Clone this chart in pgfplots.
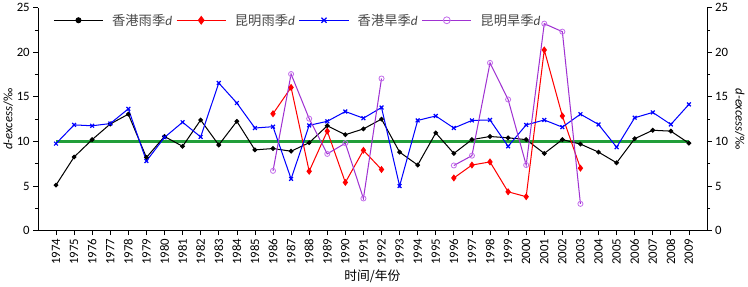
\documentclass[border=0pt]{standalone}
\usepackage{fontspec}
\setmainfont{Carlito}
\newfontfamily\cjk{Noto Sans CJK SC}
\usepackage{pgfplots}
\pgfplotsset{compat=1.18}
\definecolor{kmdry}{RGB}{160,50,210}
\definecolor{kmdrym}{RGB}{195,110,235}
\definecolor{gline}{RGB}{34,158,58}
\definecolor{legtext}{RGB}{70,70,70}
\pgfplotstableread{
year hkrain hkdry
1974 5.1 9.75
1975 8.25 11.85
1976 10.2 11.75
1977 11.95 12.0
1978 13.05 13.65
1979 8.2 7.8
1980 10.55 10.45
1981 9.45 12.15
1982 12.4 10.5
1983 9.6 16.55
1984 12.25 14.3
1985 9.05 11.5
1986 9.2 11.65
1987 8.9 5.8
1988 9.85 11.8
1989 11.75 12.25
1990 10.75 13.35
1991 11.4 12.6
1992 12.5 13.8
1993 8.8 5.0
1994 7.35 12.35
1995 10.95 12.85
1996 8.65 11.5
1997 10.2 12.35
1998 10.55 12.4
1999 10.4 9.45
2000 10.2 11.85
2001 8.65 12.4
2002 10.2 11.6
2003 9.7 13.05
2004 8.8 11.9
2005 7.6 9.35
2006 10.3 12.65
2007 11.25 13.25
2008 11.15 11.9
2009 9.8 14.15
}\hkdata
\pgfplotstableread{
year kmrain kmdry
1986 13.1 6.7
1987 16.05 17.55
1988 6.65 12.55
1989 11.15 8.6
1990 5.4 9.8
1991 9.0 3.6
1992 6.85 17.05
1994 nan nan
1996 5.9 7.3
1997 7.35 8.4
1998 7.7 18.8
1999 4.35 14.7
2000 3.8 7.35
2001 20.25 23.2
2002 12.85 22.3
2003 7.0 3.0
}\kmdata
\begin{document}
\begin{tikzpicture}
\pgfplotsset{
  base/.style={
    width=655pt, height=218.3pt, scale only axis,
    xmin=1973, xmax=2010, ymin=0, ymax=25,
    ytick={0,5,...,25}, minor y tick num=1,
    tick align=outside, major tick length=4.5pt, minor tick length=3pt,
    every tick/.style={black, line width=0.6pt},
    axis line style={black, line width=0.8pt},
    /pgf/number format/assume math mode=true,
    tick label style={font=\fontsize{12.5}{14}\selectfont},
    label style={font=\fontsize{12.5}{14}\selectfont},
  }
}
\begin{axis}[base,
  axis x line*=bottom, axis y line*=left,
  xtick={1974,...,2009},
  x tick label style={rotate=90, anchor=east, /pgf/number format/1000 sep=},
  xlabel={\cjk 时间/年份},
  xlabel style={yshift=2pt},
  ylabel={\itshape d-excess\upshape/‰},
  ylabel style={yshift=-3pt},
  unbounded coords=jump,
  legend columns=4,
  legend cell align=left,
  legend style={at={(0.0,1.0)}, anchor=north west, draw=none, fill=none,
    xshift=12pt, yshift=-2pt,
    font=\fontsize{13}{15}\selectfont, text=legtext,
    /tikz/every even column/.append style={column sep=2pt},
    /tikz/every odd column/.append style={column sep=6.5pt},
    nodes={inner sep=2pt}},
  legend image code/.code={
    \draw[#1, mark=none] (0pt,0pt) -- (48pt,0pt);
    \draw[#1, every mark/.append style={scale=1.35}] plot coordinates {(24pt,0pt)};
  },
]
\addplot[gline, line width=2.2pt, forget plot] coordinates {(1974,10) (2009,10)};
\addplot[black, line width=1pt, mark=*, mark size=1.8pt] table[x=year, y=hkrain] {\hkdata};
\addlegendentry{{\cjk 香港雨季}\textit{d}}
\addplot[red, line width=1pt, mark=diamond*, mark size=2.7pt] table[x=year, y=kmrain] {\kmdata};
\addlegendentry{{\cjk 昆明雨季}\textit{d}}
\addplot[blue, line width=1pt, mark=x, mark size=2.6pt, mark options={line width=1.2pt}] table[x=year, y=hkdry] {\hkdata};
\addlegendentry{{\cjk 香港旱季}\textit{d}}
\addplot[kmdry, line width=1pt, mark=o, mark size=2.5pt, mark options={kmdrym, line width=0.8pt}] table[x=year, y=kmdry] {\kmdata};
\addlegendentry{{\cjk 昆明旱季}\textit{d}}
\end{axis}
\begin{axis}[base,
  axis x line=none, axis y line*=right,
  ylabel={\itshape d-excess\upshape/‰},
  ylabel style={rotate=180},
]
\end{axis}
\end{tikzpicture}
\end{document}
